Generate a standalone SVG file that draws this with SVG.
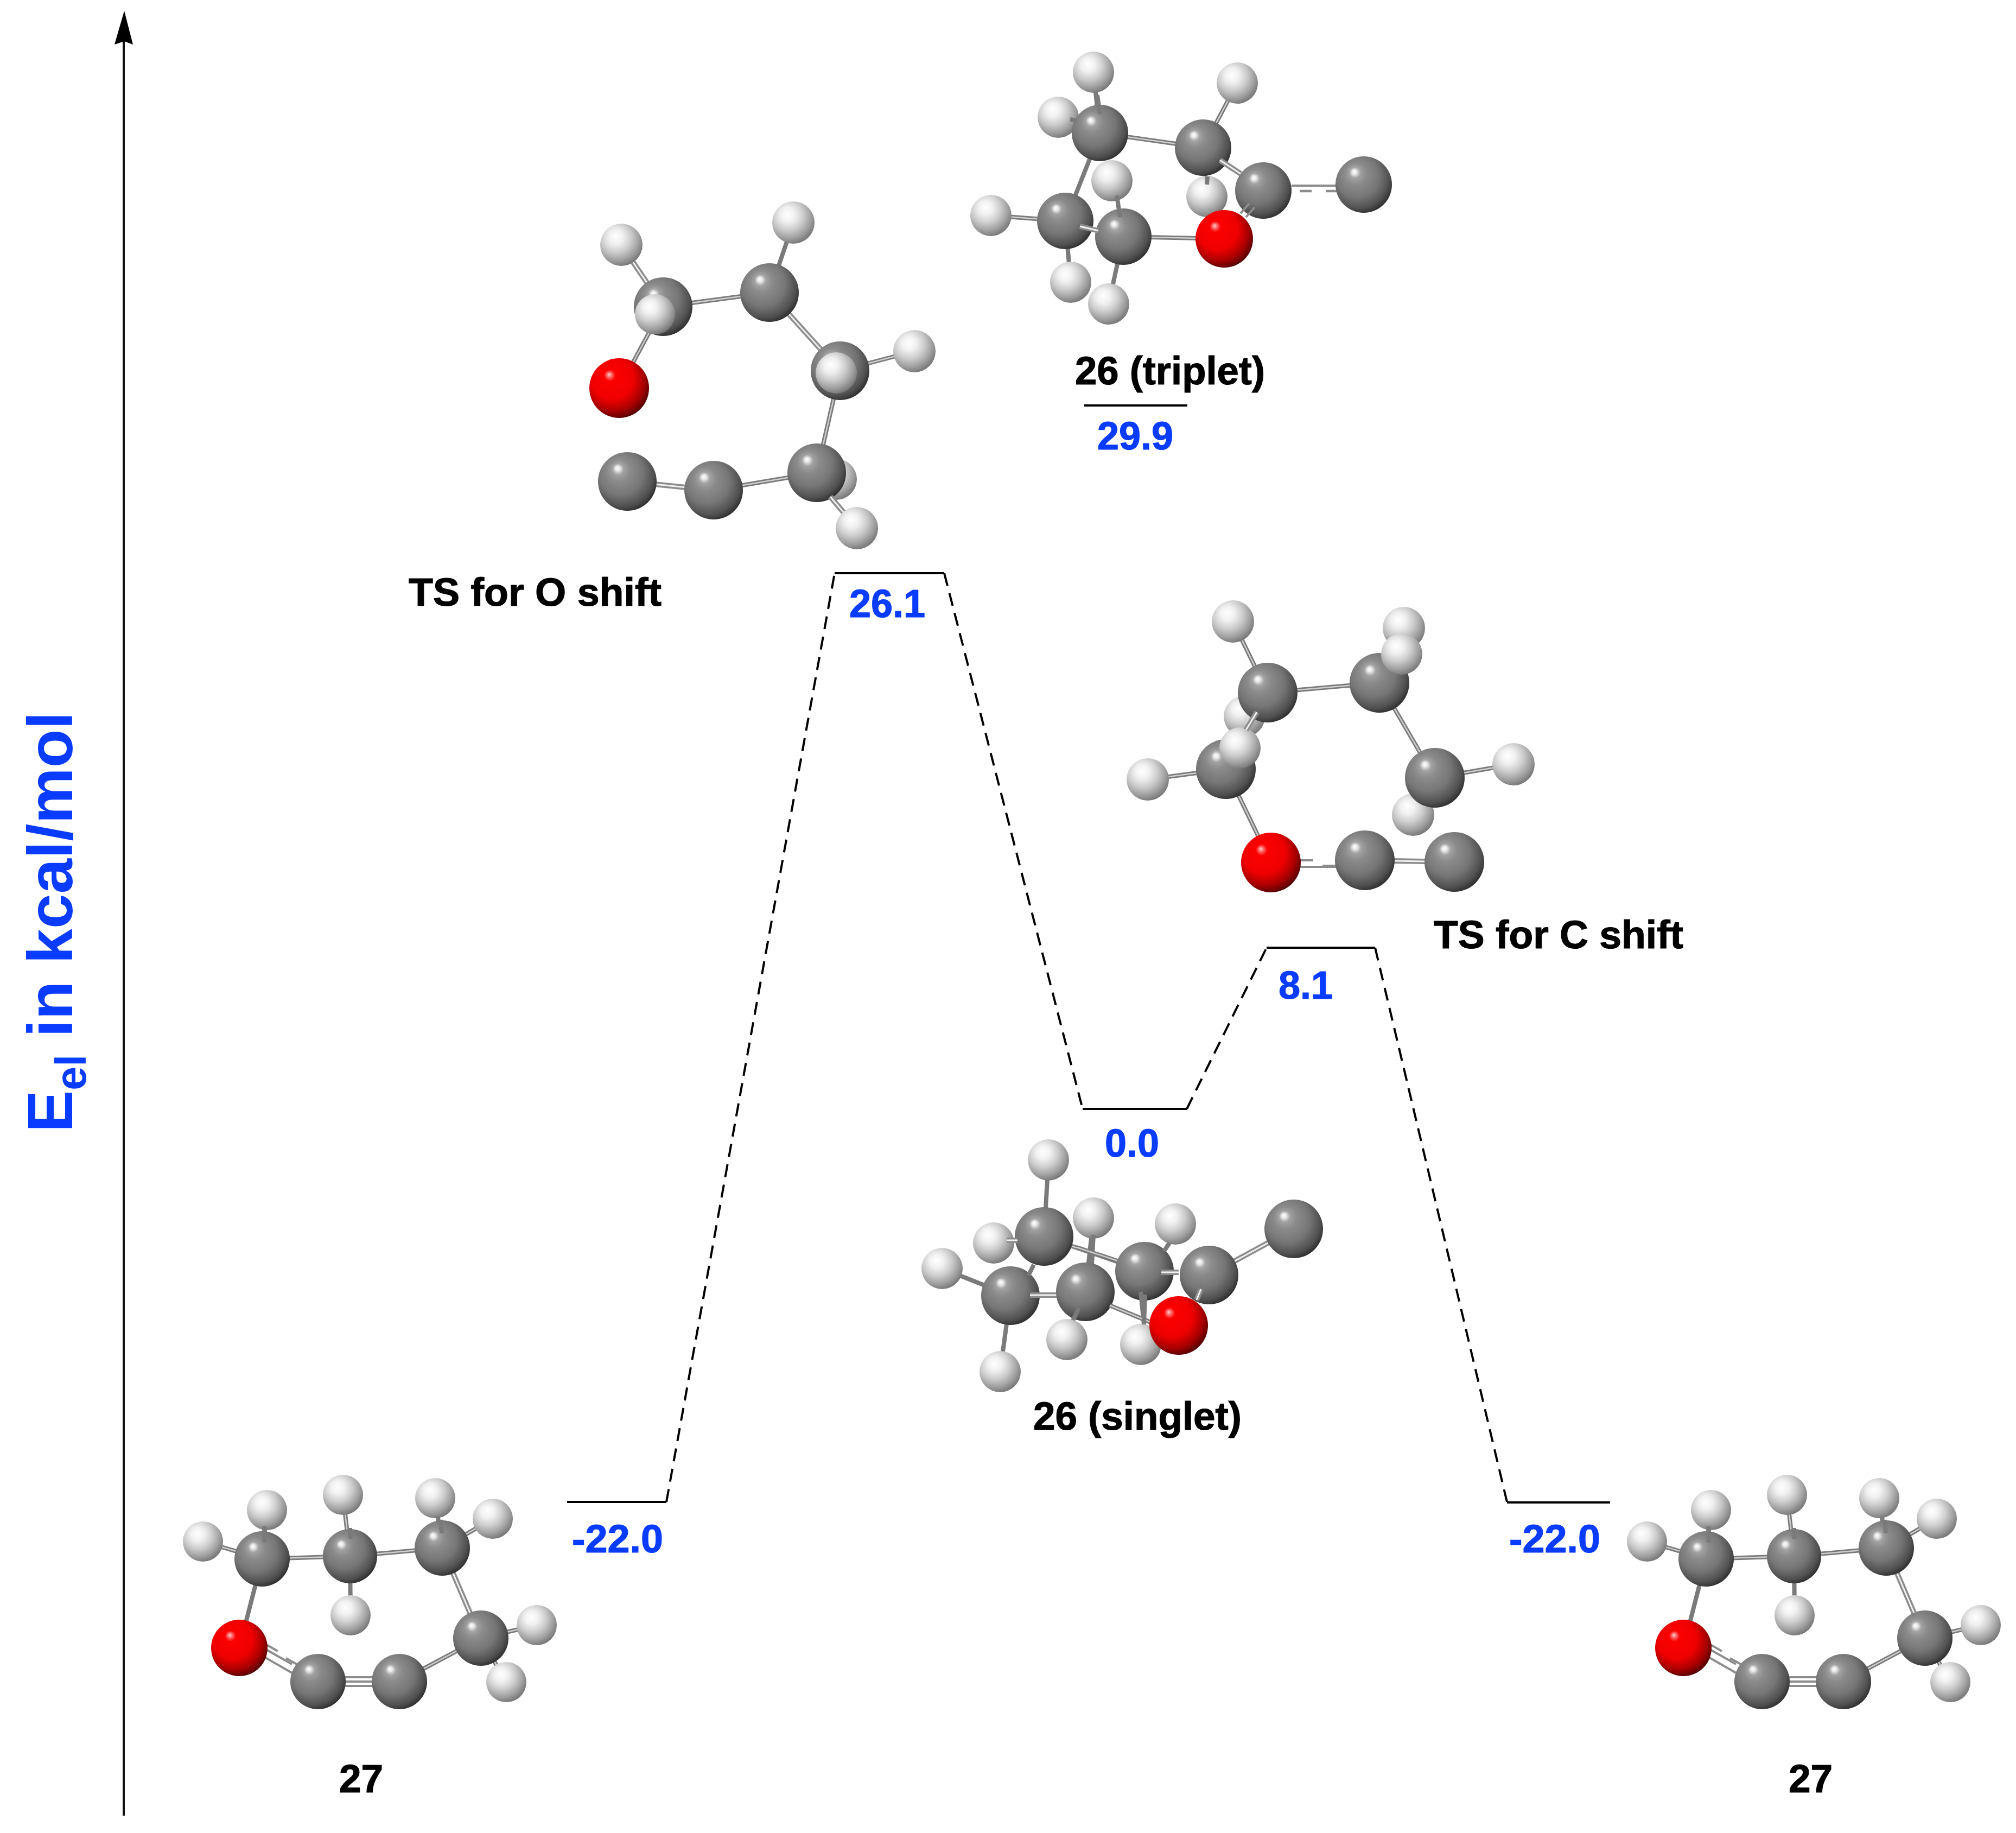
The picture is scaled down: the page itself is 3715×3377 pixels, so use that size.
<svg xmlns="http://www.w3.org/2000/svg" xmlns:xlink="http://www.w3.org/1999/xlink" width="3715" height="3377" viewBox="0 0 3715 3377">
<style>
text{font-family:"Liberation Sans",Arial,sans-serif;font-weight:bold}
.t{font-size:73px;fill:#000;stroke:#000;stroke-width:1.2}
.v{font-size:72px;fill:#0a3cff;stroke:#0a3cff;stroke-width:1.2}
.a{font-size:116px;fill:#0a3cff}
.lvl{stroke:#000;stroke-width:4;fill:none}
.dash{stroke:#000;stroke-width:4;fill:none;stroke-dasharray:24 14}
.s1{stroke:#7a7a7a;stroke-width:8;fill:none}
.s2{stroke:#cfcfcf;stroke-width:2.5;fill:none}
.d1{stroke:#8c8c8c;stroke-width:10;fill:none}
.d2{stroke:#f0f0f0;stroke-width:3;fill:none}
.th{stroke:#8c8c8c;stroke-width:4;fill:none}
.pd{stroke:#8c8c8c;stroke-width:4.5;fill:none;stroke-dasharray:22 26}
.C{fill:url(#gC)}
.H{fill:url(#gH)}
.O{fill:url(#gO)}
</style>
<defs>
<radialGradient id="gC" cx=".42" cy=".4" r=".64" fx=".33" fy=".27">
<stop offset="0" stop-color="#fff"/><stop offset=".06" stop-color="#eaeaea"/><stop offset=".15" stop-color="#a2a2a2"/><stop offset=".3" stop-color="#8b8b8b"/><stop offset=".6" stop-color="#767676"/><stop offset=".85" stop-color="#505050"/><stop offset="1" stop-color="#2a2a2a"/>
</radialGradient>
<radialGradient id="gH" cx=".4" cy=".36" r=".7" fx=".36" fy=".3">
<stop offset="0" stop-color="#fff"/><stop offset=".25" stop-color="#f0f0f0"/><stop offset=".5" stop-color="#cdcdcd"/><stop offset=".75" stop-color="#a0a0a0"/><stop offset="1" stop-color="#6c6c6c"/>
</radialGradient>
<radialGradient id="gO" cx=".42" cy=".4" r=".64" fx=".33" fy=".27">
<stop offset="0" stop-color="#ffd0d0"/><stop offset=".06" stop-color="#ff7070"/><stop offset=".15" stop-color="#fb0000"/><stop offset=".55" stop-color="#f00000"/><stop offset=".8" stop-color="#a80000"/><stop offset="1" stop-color="#4c0000"/>
</radialGradient>
<g id="m27">
<path class="s1" d="M483 2872L374 2840M483 2872L492 2782M483 2872L645 2867M645 2867L632 2754M645 2867L815 2852M645 2867L646 2976M815 2852L802 2760M815 2852L908 2798M483 2872L441 3036M886 3018L736 3098M886 3018L989 2994M886 3018L933 3099"/>
<path class="s2" d="M483 2872L374 2840M483 2872L645 2867M645 2867L632 2754M645 2867L815 2852M815 2852L908 2798M886 3018L736 3098M886 3018L989 2994M886 3018L933 3099"/>
<path class="d1" d="M815 2852L886 3018"/><path class="d2" d="M815 2852L886 3018"/>
<circle class="H" cx="374" cy="2840" r="37"/>
<circle class="H" cx="492" cy="2782" r="37"/>
<circle class="H" cx="632" cy="2754" r="37"/>
<circle class="H" cx="802" cy="2760" r="37"/>
<circle class="H" cx="908" cy="2798" r="37"/>
<circle class="H" cx="646" cy="2976" r="37"/>
<circle class="H" cx="989" cy="2994" r="37"/>
<circle class="H" cx="933" cy="3099" r="37"/>
<circle class="C" cx="483" cy="2872" r="51"/>
<circle class="C" cx="645" cy="2867" r="50"/>
<circle class="C" cx="815" cy="2852" r="51"/>
<circle class="C" cx="886" cy="3018" r="51"/>
<path class="s1" d="M488 2842L487 2812M646 2835L645 2815M814 2825L812 2800"/>
<path class="th" d="M470 3043L538 3082M478 3032L538 3066M484 3026L512 3042M527 3055L556 3071"/>
<circle class="O" cx="441" cy="3036" r="52"/>
<path class="th" d="M630 3090H690M630 3098H690M630 3106H690"/>
<circle class="C" cx="586" cy="3098" r="51"/>
<circle class="C" cx="736" cy="3098" r="51"/>
</g>
</defs>
<rect width="3715" height="3377" fill="#fff"/>

<g id="connectors">
<path d="M228 3345V70" stroke="#111" stroke-width="4" fill="none"/>
<path d="M229 20L245 82L229 76L211 82Z" fill="#000"/>
<path class="dash" d="M1228 2767L1538 1056"/>
<path class="dash" d="M1740 1056L1995 2043"/>
<path class="dash" d="M2187 2043L2334 1746"/>
<path class="dash" d="M2534 1746L2777 2767"/>
</g>

<g id="axis-label">
<text class="a" transform="translate(133,2086) rotate(-90)">E<tspan dy="25" font-size="79">el</tspan><tspan dy="-25" dx="32">in kcal/mol</tspan></text>
</g>

<g id="level-26-triplet">
<path class="lvl" d="M1998 747H2188"/>
<text class="t" x="1981" y="708" textLength="350" lengthAdjust="spacingAndGlyphs">26 (triplet)</text>
<text class="v" x="2022" y="828">29.9</text>
</g>
<g id="level-ts-o">
<path class="lvl" d="M1538 1056H1740"/>
<text class="t" x="753" y="1116" textLength="466" lengthAdjust="spacingAndGlyphs">TS for O shift</text>
<text class="v" x="1565" y="1137">26.1</text>
</g>
<g id="level-ts-c">
<path class="lvl" d="M2334 1746H2534"/>
<text class="t" x="2642" y="1747" textLength="460" lengthAdjust="spacingAndGlyphs">TS for C shift</text>
<text class="v" x="2356" y="1840">8.1</text>
</g>
<g id="level-26-singlet">
<path class="lvl" d="M1995 2043H2187"/>
<text class="v" x="2036" y="2131">0.0</text>
<text class="t" x="1904" y="2634" textLength="384" lengthAdjust="spacingAndGlyphs">26 (singlet)</text>
</g>
<g id="level-27-left">
<path class="lvl" d="M1045 2767H1228"/>
<text class="v" x="1054" y="2860" textLength="168" lengthAdjust="spacingAndGlyphs">-22.0</text>
<text class="t" x="625" y="3302">27</text>
</g>
<g id="level-27-right">
<path class="lvl" d="M2777 2768H2967"/>
<text class="v" x="2781" y="2860" textLength="168" lengthAdjust="spacingAndGlyphs">-22.0</text>
<text class="t" x="3296" y="3302">27</text>
</g>

<g id="mol-26-triplet">
<path class="s1" d="M2027 245L2217 272M2027 245L2015 133M2027 245L1950 216M2027 245L1963 407M2217 272L2280 153M2217 272L2224 362M1963 407L1826 397M1963 407L1973 520M2070 436L2043 560M2070 436L2256 440"/>
<path class="s2" d="M2027 245L2217 272M2217 272L2280 153M1963 407L1826 397M2070 436L2256 440"/>
<circle class="H" cx="2015" cy="133" r="38"/>
<circle class="H" cx="2280" cy="153" r="38"/>
<circle class="H" cx="1950" cy="216" r="38"/>
<circle class="H" cx="2224" cy="362" r="38"/>
<circle class="H" cx="1826" cy="397" r="38"/>
<circle class="H" cx="1973" cy="520" r="38"/>
<circle class="H" cx="2043" cy="560" r="38"/>
<circle class="C" cx="2027" cy="245" r="52"/>
<path class="s1" d="M2027 210L2022 175M1985 222L1972 220"/>
<circle class="H" cx="2049" cy="333" r="38"/>
<circle class="C" cx="2217" cy="272" r="52"/>
<circle class="C" cx="1963" cy="407" r="52"/>
<circle class="C" cx="2070" cy="436" r="52"/>
<path class="s1" d="M2058 360L2064 400M2225 325L2224 340"/>
<path class="d1" d="M1990 417L2024 425"/><path class="d2" d="M1990 417L2024 425"/>
<circle class="C" cx="2328" cy="351" r="52"/>
<path class="d1" d="M2248 295L2286 320"/><path class="d2" d="M2248 295L2286 320"/>
<circle class="O" cx="2256" cy="440" r="53"/>
<path class="th" d="M2286 393L2302 375M2296 400L2312 382"/>
<path class="th" d="M2380 342H2465"/><path class="pd" d="M2395 352H2465"/>
<circle class="C" cx="2513" cy="340" r="52"/>
</g>

<g id="mol-ts-o">
<path class="s1" d="M1222 565L1418 539M1222 565L1141 715M1418 539L1462 410M1548 683L1685 647M1548 683L1505 871M1505 871L1315 903"/>
<path class="s2" d="M1222 565L1418 539M1222 565L1141 715M1548 683L1685 647M1548 683L1505 871M1505 871L1315 903"/>
<path class="d1" d="M1145 451L1222 565"/><path class="d2" d="M1145 451L1222 565"/>
<path class="d1" d="M1418 539L1548 683"/><path class="d2" d="M1418 539L1548 683"/>
<path class="d1" d="M1156 887L1315 903"/><path class="d2" d="M1156 887L1315 903"/>
<circle class="H" cx="1145" cy="451" r="39"/>
<circle class="H" cx="1462" cy="410" r="39"/>
<circle class="H" cx="1685" cy="647" r="39"/>
<circle class="C" cx="1222" cy="565" r="54"/>
<circle class="H" cx="1207" cy="579" r="37"/>
<circle class="C" cx="1418" cy="539" r="54"/>
<circle class="C" cx="1548" cy="683" r="54"/>
<circle class="H" cx="1541" cy="687" r="38"/>
<circle class="O" cx="1141" cy="715" r="55"/>
<circle class="H" cx="1541" cy="883" r="38"/>
<circle class="C" cx="1156" cy="887" r="54"/>
<circle class="C" cx="1315" cy="903" r="54"/>
<circle class="C" cx="1505" cy="871" r="54"/>
<path class="d1" d="M1530 915L1579 973"/><path class="d2" d="M1530 915L1579 973"/>
<circle class="H" cx="1579" cy="973" r="39"/>
</g>

<g id="mol-ts-c">
<path class="s1" d="M2336 1276L2272 1145M2336 1276L2542 1258M2542 1258L2644 1433M2644 1433L2789 1408M2259 1417L2115 1436M2259 1417L2342 1589"/>
<path class="s2" d="M2336 1276L2272 1145M2336 1276L2542 1258M2542 1258L2644 1433M2644 1433L2789 1408M2259 1417L2115 1436M2259 1417L2342 1589"/>
<path class="d1" d="M2515 1585L2680 1588"/><path class="d2" d="M2515 1585L2680 1588"/>
<circle class="H" cx="2272" cy="1145" r="39"/>
<circle class="H" cx="2587" cy="1157" r="39"/>
<circle class="H" cx="2789" cy="1408" r="39"/>
<circle class="H" cx="2115" cy="1436" r="39"/>
<circle class="H" cx="2293" cy="1320" r="38"/>
<circle class="H" cx="2604" cy="1501" r="39"/>
<circle class="C" cx="2336" cy="1276" r="55"/>
<circle class="C" cx="2542" cy="1258" r="55"/>
<circle class="H" cx="2583" cy="1205" r="38"/>
<circle class="C" cx="2259" cy="1417" r="55"/>
<circle class="H" cx="2285" cy="1378" r="38"/>
<path class="d1" d="M2316 1312L2296 1345"/><path class="d2" d="M2316 1312L2296 1345"/>
<circle class="C" cx="2644" cy="1433" r="55"/>
<path class="th" d="M2395 1597H2465M2395 1585H2420M2437 1595H2465"/>
<circle class="O" cx="2342" cy="1589" r="55"/>
<circle class="C" cx="2515" cy="1585" r="55"/>
<circle class="C" cx="2680" cy="1588" r="55"/>
</g>

<g id="mol-26-singlet">
<path class="s1" d="M1932 2137L1924 2278M1924 2278L2109 2342M2015 2244L2000 2380"/>
<path class="s2" d="M1924 2278L2109 2342"/>
<circle class="H" cx="1932" cy="2137" r="38"/>
<circle class="H" cx="2015" cy="2244" r="38"/>
<circle class="H" cx="2166" cy="2255" r="38"/>
<circle class="H" cx="1831" cy="2290" r="38"/>
<path class="s1" d="M1736 2337L1862 2387"/>
<circle class="H" cx="1736" cy="2337" r="38"/>
<circle class="C" cx="1924" cy="2278" r="54"/>
<path class="d1" d="M1855 2285L1875 2285"/><path class="d2" d="M1855 2285L1875 2285"/>
<path class="s1" d="M1984 2298L2095 2335M2015 2275L2012 2330"/>
<path class="s2" d="M1984 2298L2060 2323"/>
<circle class="C" cx="2109" cy="2342" r="54"/>
<path class="s1" d="M2155 2290L2145 2305"/>
<path class="d1" d="M2228 2349L2384 2264"/><path class="d2" d="M2228 2349L2384 2264"/>
<circle class="C" cx="2384" cy="2264" r="54"/>
<circle class="C" cx="2228" cy="2349" r="54"/>
<path class="d1" d="M2140 2344L2172 2344"/><path class="d2" d="M2140 2344L2172 2344"/>
<path class="s1" d="M1862 2387L1843 2527M2102 2380L2108 2440"/>
<circle class="C" cx="1862" cy="2387" r="54"/>
<path class="d1" d="M1898 2386L1960 2386"/><path class="d2" d="M1898 2386L1960 2386"/>
<path class="s1" d="M1905 2330L1895 2350"/>
<circle class="C" cx="2000" cy="2380" r="54"/>
<path class="s1" d="M1976 2435L1988 2410M2045 2405L2130 2440"/><path class="s2" d="M2045 2405L2130 2440"/>
<circle class="H" cx="1843" cy="2527" r="38"/>
<circle class="H" cx="1966" cy="2468" r="38"/>
<circle class="H" cx="2102" cy="2477" r="38"/>
<path class="s1" d="M2110 2385L2108 2440"/>
<circle class="O" cx="2172" cy="2442" r="54"/>
<path class="d1" d="M2205 2395L2213 2375"/><path class="d2" d="M2205 2395L2213 2375"/>
</g>

<g id="mol-27-left"><use href="#m27" xlink:href="#m27"/></g>
<g id="mol-27-right" transform="translate(2661,0)"><use href="#m27" xlink:href="#m27"/></g>
</svg>
